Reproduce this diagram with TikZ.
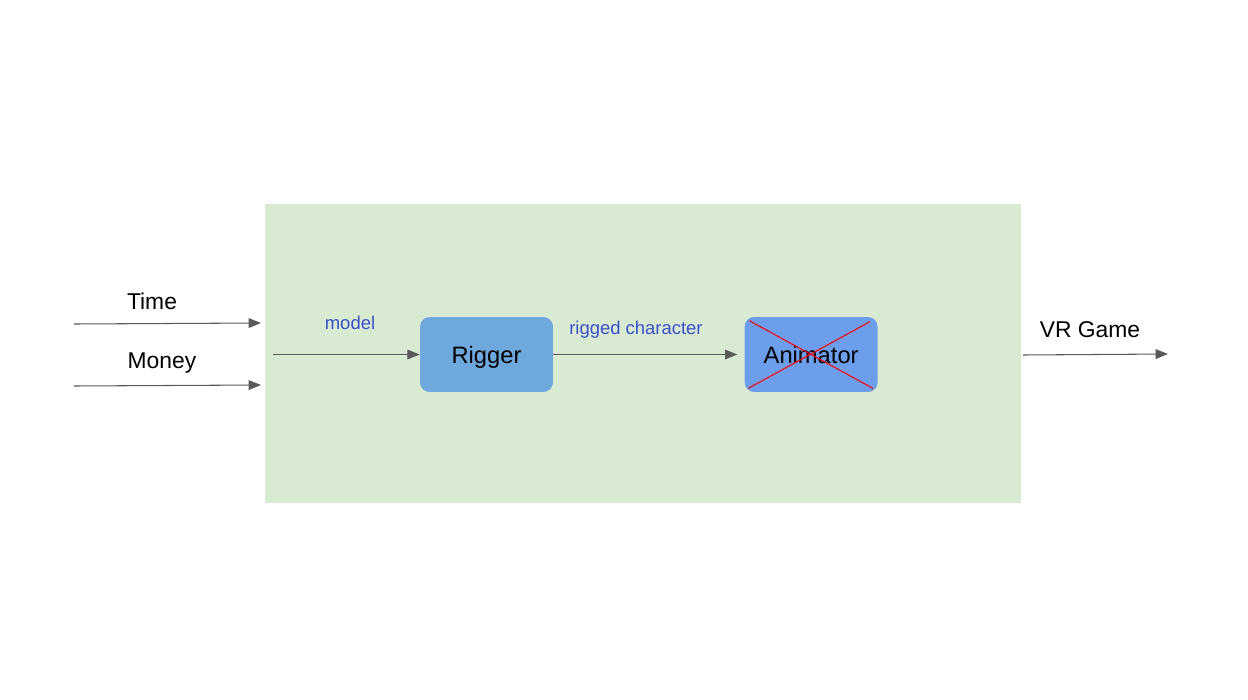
\documentclass[tikz,border=0pt]{standalone}
\usepackage{fontspec}
\setmainfont{Liberation Sans}
\usetikzlibrary{
  arrows.meta,
  positioning
}
\definecolor{StudioGreen}{RGB}{217, 234, 211}
\definecolor{RiggerBlue}{RGB}{111, 168, 220}
\definecolor{AnimatorBlue}{RGB}{109, 158, 235}
\definecolor{FlowGray}{RGB}{89, 89, 89}
\definecolor{LabelBlue}{RGB}{59, 79, 200}
\tikzset{
    stage/.style={rectangle, rounded corners=5.5pt, minimum width=2.66cm, minimum height=1.5cm, inner sep=0pt, text depth=0pt, font=\fontsize{13.5}{15}\selectfont},
    flow/.style={draw=FlowGray, line width=0.6pt, -{Triangle[length=7pt, width=5.5pt]}, color=FlowGray},
    outlabel/.style={font=\fontsize{13}{15}\selectfont, text=black},
    flowlabel/.style={font=\fontsize{10.5}{12}\selectfont, text=LabelBlue}
}

\begin{document}
\begin{tikzpicture}[x=0.02cm, y=-0.02cm]
    \useasboundingbox (0,0) rectangle (1248,700);
    % studio box
    \node[rectangle, fill=StudioGreen, minimum width=15.12cm, minimum height=5.98cm, inner sep=0pt] (studio) at (643,353.5) {};
    \node[stage, fill=RiggerBlue] (rigger) at (486.5,354.5) {Rigger};
    \node[stage, fill=AnimatorBlue, right=3.82cm of rigger] (animator) {Animator};
    \draw[red, line width=0.6pt] ([shift={(5,4)}]animator.north west) -- ([shift={(-5,-4)}]animator.south east);
    \draw[red, line width=0.6pt] ([shift={(4,-4)}]animator.south west) -- ([shift={(-8,5)}]animator.north east);
    % inputs
    \coordinate (timeIn) at (74,324);
    \coordinate (timeOut) at (261,323);
    \coordinate (moneyIn) at (74,386);
    \coordinate (moneyOut) at (261,385);
    \coordinate (modelIn) at (273,354.5);
    \coordinate (gameIn) at (1023,355);
    \coordinate (gameOut) at (1168,354);
    \draw[flow] (timeIn) -- (timeOut);
    \draw[flow] (moneyIn) -- (moneyOut);
    \node[outlabel] (timeLabel) at (152,301) {Time};
    \node[outlabel] (moneyLabel) at (162,363) {Money};
    % flow inside
    \draw[flow] (modelIn) -- (rigger.west);
    \node[flowlabel] (modelLabel) at (350,323) {model};
    \draw[flow, shorten >=0.14cm] (rigger.east) -- (animator.west);
    \node[flowlabel] (riggedLabel) at (636,330) {rigged character};
    % output
    \draw[flow] (gameIn) -- (gameOut);
    \node[outlabel] (gameLabel) at (1090,330) {VR Game};
\end{tikzpicture}
\end{document}
